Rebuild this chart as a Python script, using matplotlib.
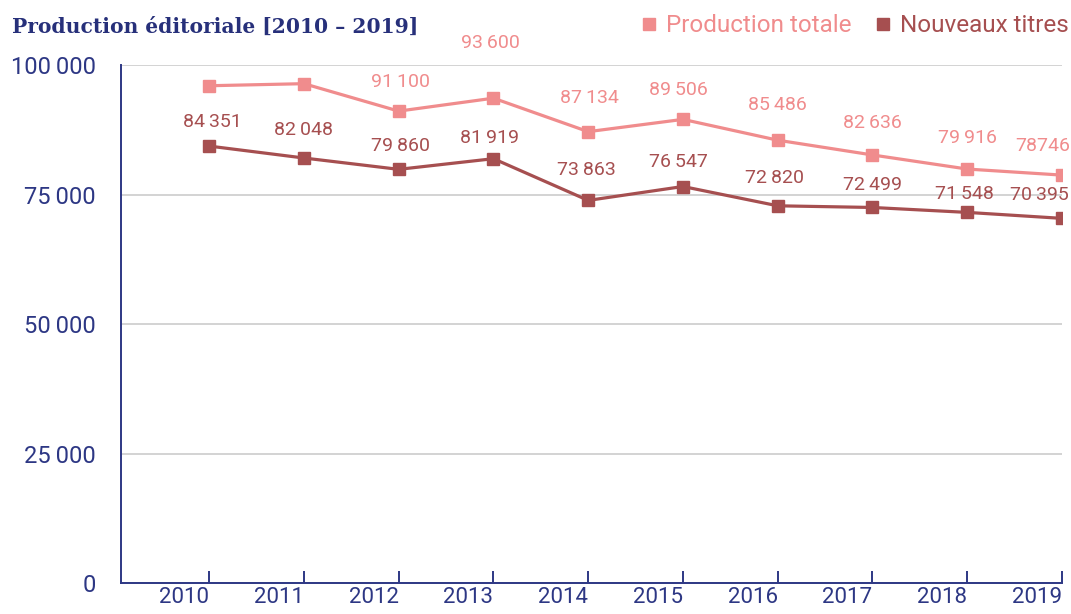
import matplotlib.pyplot as plt
from matplotlib.ticker import FixedLocator, FuncFormatter
from matplotlib.lines import Line2D

# Data
years = [2010, 2011, 2012, 2013, 2014, 2015, 2016, 2017, 2018, 2019]
production_totale = [96000, 96400, 91100, 93600, 87134, 89506, 85486, 82636, 79916, 78746]
nouveaux_titres = [84351, 82048, 79860, 81919, 73863, 76547, 72820, 72499, 71548, 70395]
# 2010 and 2011 totals carry no label in the original
totale_labels = [None, None, "91\u2009100", "93\u2009600", "87\u2009134", "89\u2009506",
                 "85\u2009486", "82\u2009636", "79\u2009916", "78746"]
yticks = [0, 25000, 50000, 75000, 100000]

NAVY = "#2D3784"
PINK = "#F08C8D"
DARK = "#A64F50"
GRID = "#cccccc"
FONT = ["Roboto", "DejaVu Sans"]

plt.rcParams['font.family'] = FONT


def sep(v):
    s = f"{int(v):,}".replace(",", "\u2009")
    return s


fig = plt.figure(figsize=(10.71, 6.14), dpi=100)
ax = fig.add_axes([0.113, 0.0505, 0.8786, 0.8436])

ax.plot(years, production_totale, color=PINK, lw=2.3, marker='s', ms=9, zorder=3)
ax.plot(years, nouveaux_titres, color=DARK, lw=2.3, marker='s', ms=9, zorder=3)

# label offsets in points (dx, dy), tuned by eye
off_pink = [None, None, (1, 21), (-2, 40), (1, 24), (-3, 21), (0, 25), (0, 23), (0, 22), (-14, 21)]
off_dark = [(2, 17), (0, 20), (1, 17), (-3, 15), (-1, 22), (-3, 18), (-2, 20), (0, 16), (-2, 13), (-16, 17)]

for x, y, lab, off in zip(years, production_totale, totale_labels, off_pink):
    if lab is None:
        continue
    ax.annotate(lab, (x, y), xytext=off, textcoords='offset points', ha='center', va='center',
                color=PINK, fontsize=14, clip_on=False, zorder=4)
for x, y, off in zip(years, nouveaux_titres, off_dark):
    ax.annotate(sep(y), (x, y), xytext=off, textcoords='offset points', ha='center', va='center',
                color=DARK, fontsize=14, clip_on=False, zorder=4)

ax.set_xlim(2009.07, 2019)
ax.set_ylim(0, 100000)
ax.xaxis.set_major_locator(FixedLocator(years))
ax.yaxis.set_major_locator(FixedLocator(yticks))
ax.yaxis.set_major_formatter(FuncFormatter(lambda v, p: sep(v)))

ax.grid(axis='y', color=GRID, lw=1.2, zorder=0)
ax.set_axisbelow(True)
for s in ['top', 'right']:
    ax.spines[s].set_visible(False)
for s in ['left', 'bottom']:
    ax.spines[s].set_color(NAVY)
    ax.spines[s].set_linewidth(1.4)

ax.tick_params(axis='x', direction='in', length=9, width=1.4, color=NAVY,
               labelcolor=NAVY, labelsize=16, pad=3)
ax.tick_params(axis='y', length=0, labelcolor=NAVY, labelsize=17, pad=18)
# year labels sit to the left of their tick, ending at it
for lab in ax.get_xticklabels():
    lab.set_horizontalalignment('right')

# Title
fig.text(0.011, 0.957, "Production éditoriale [2010 – 2019]", fontsize=14.6, fontweight='bold',
         family=["DejaVu Serif"], color="#27307A", ha='left', va='center')

# Legend
handles = [Line2D([], [], ls='none', marker='s', ms=8, color=PINK),
           Line2D([], [], ls='none', marker='s', ms=8, color=DARK)]
leg = fig.legend(handles, ["Production totale", "Nouveaux titres"], ncol=2, frameon=False,
                 loc='center right', bbox_to_anchor=(1.018, 0.958), fontsize=17.5,
                 handlelength=0.6, handletextpad=0.4, columnspacing=1.0)
for t, c in zip(leg.get_texts(), [PINK, DARK]):
    t.set_color(c)

fig.savefig("out.png", dpi=100)
